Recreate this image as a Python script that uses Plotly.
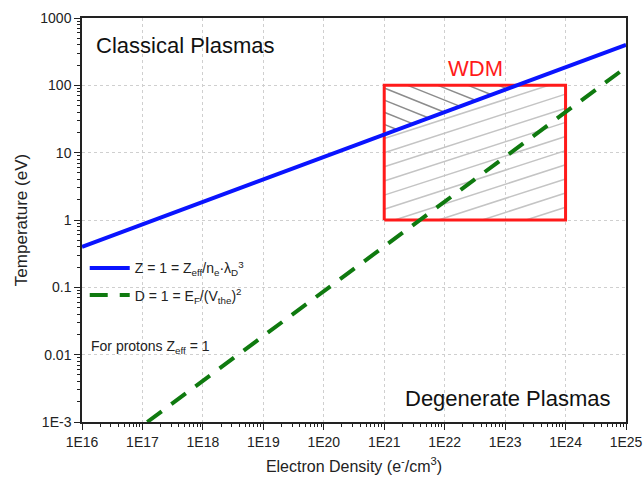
import numpy as np
import plotly.graph_objects as go

# ---- data ----
z_density = [1e16, 1e25]          # Z = 1 line (blue)
z_temp = [0.4, 400]
d_density = [1.2e17, 1e25]        # D = 1 line (green, dashed)
d_temp = [1e-3, 185]
wdm_density = [1e21, 1e24]        # WDM box
wdm_temp = [1, 100]

x_tickvals = [1e16, 1e17, 1e18, 1e19, 1e20, 1e21, 1e22, 1e23, 1e24, 1e25]
x_ticktext = ["1E16", "1E17", "1E18", "1E19", "1E20", "1E21", "1E22", "1E23", "1E24", "1E25"]
y_tickvals = [1e-3, 1e-2, 1e-1, 1, 10, 100, 1000]
y_ticktext = ["1E-3", "0.01", "0.1", "1", "10", "100", "1000"]

FONT = "Arial, Liberation Sans, sans-serif"

# ---- hatching of the WDM box (computed in log space) ----
u0, u1 = np.log10(wdm_density)
v0, v1 = np.log10(wdm_temp)
bu = np.log10(z_density)
bv = np.log10(z_temp)
bslope = (bv[1] - bv[0]) / (bu[1] - bu[0])
b_at_u0 = bv[0] + bslope * (u0 - bu[0])


def segs_to_xy(segs):
    xs, ys = [], []
    for (ua, va, ub, vb) in segs:
        xs += [10 ** ua, 10 ** ub, None]
        ys += [10 ** va, 10 ** vb, None]
    return xs, ys


# light lines (below the blue line)
s_light = 0.29
light = []
for k in range(-20, 20):
    c = 0.79 + 0.21 * k
    lo = max(u0, u0 + (v0 - c) / s_light, u0 + (c - b_at_u0) / (bslope - s_light))
    hi = min(u1, u0 + (v1 - c) / s_light)
    if lo < hi:
        light.append((lo, c + s_light * (lo - u0), hi, c + s_light * (hi - u0)))

# dark lines (above the blue line)
s_dark = -0.36
dark = []
for k in range(-20, 30):
    c = 1.96 + 0.18 * k
    lo = max(u0, u0 + (c - v1) / (-s_dark))
    hi = min(u1, u0 + (c - b_at_u0) / (bslope - s_dark))
    if lo < hi:
        dark.append((lo, c + s_dark * (lo - u0), hi, c + s_dark * (hi - u0)))

fig = go.Figure()

lx, ly = segs_to_xy(light)
fig.add_trace(go.Scatter(x=lx, y=ly, mode="lines", line=dict(color="#c4c4c4", width=1.5),
                         showlegend=False, hoverinfo="skip"))
dx, dy = segs_to_xy(dark)
fig.add_trace(go.Scatter(x=dx, y=dy, mode="lines", line=dict(color="#8c8c8c", width=1.5),
                         showlegend=False, hoverinfo="skip"))

# WDM rectangle
fig.add_trace(go.Scatter(
    x=[wdm_density[0], wdm_density[1], wdm_density[1], wdm_density[0], wdm_density[0]],
    y=[wdm_temp[0], wdm_temp[0], wdm_temp[1], wdm_temp[1], wdm_temp[0]],
    mode="lines", line=dict(color="#ff1a1a", width=3), showlegend=False, hoverinfo="skip"))

fig.add_trace(go.Scatter(
    x=z_density, y=z_temp, mode="lines", line=dict(color="#0a14ff", width=4),
    legendgroup="z", name="Z = 1 = Z<sub>eff</sub>/n<sub>e</sub>·λ<sub>D</sub><sup>3</sup>"))
fig.add_trace(go.Scatter(
    x=d_density, y=d_temp, mode="lines", line=dict(color="#0f7a0f", width=4, dash="18px,12px"),
    legendgroup="d", name="D = 1 = E<sub>F</sub>/(V<sub>the</sub>)<sup>2</sup>"))

axis_common = dict(
    type="log", showline=True, linecolor="#222", linewidth=1.5, mirror=True,
    ticks="outside", ticklen=6, tickwidth=1.2, tickcolor="#222",
    showgrid=True, gridcolor="#cfcfcf", griddash="dot", gridwidth=1,
    zeroline=False, automargin=False,
    tickfont=dict(family=FONT, size=14, color="#222"),
    minor=dict(ticks="outside", ticklen=3, tickcolor="#222", dtick="D1", showgrid=False),
)

fig.update_layout(
    width=643, height=489,
    margin=dict(l=82, r=17, t=18, b=67),
    paper_bgcolor="white", plot_bgcolor="white",
    font=dict(family=FONT, color="#222"),
    xaxis=dict(axis_common, range=[16, 25], tickvals=x_tickvals, ticktext=x_ticktext,
               title=dict(text="Electron Density (e<sup>-</sup>/cm<sup>3</sup>)",
                          font=dict(family=FONT, size=16, color="#222"), standoff=12)),
    yaxis=dict(axis_common, range=[-3, 3], tickvals=y_tickvals, ticktext=y_ticktext,
               title=dict(text="Temperature (eV)", font=dict(family=FONT, size=17, color="#222"),
                          standoff=8)),
    legend=dict(x=0.005, y=0.42, xanchor="left", yanchor="top",
                bgcolor="rgba(0,0,0,0)", font=dict(family=FONT, size=14, color="#222"),
                itemwidth=40, tracegroupgap=6),
    annotations=[
        dict(text="Classical Plasmas", xref="paper", yref="paper", x=0.022, y=0.933,
             xanchor="left", yanchor="middle", showarrow=False,
             font=dict(family=FONT, size=22, color="#111")),
        dict(text="Degenerate Plasmas", xref="paper", yref="paper", x=0.975, y=0.059,
             xanchor="right", yanchor="middle", showarrow=False,
             font=dict(family=FONT, size=22, color="#111")),
        dict(text="WDM", xref="paper", yref="paper", x=0.724, y=0.876,
             xanchor="center", yanchor="middle", showarrow=False,
             font=dict(family=FONT, size=22, color="#ff1a1a")),
        dict(text="For protons Z<sub>eff</sub> = 1", xref="paper", yref="paper", x=0.013, y=0.185,
             xanchor="left", yanchor="middle", showarrow=False,
             font=dict(family=FONT, size=14, color="#222")),
    ],
)

fig.write_html("out.html")
